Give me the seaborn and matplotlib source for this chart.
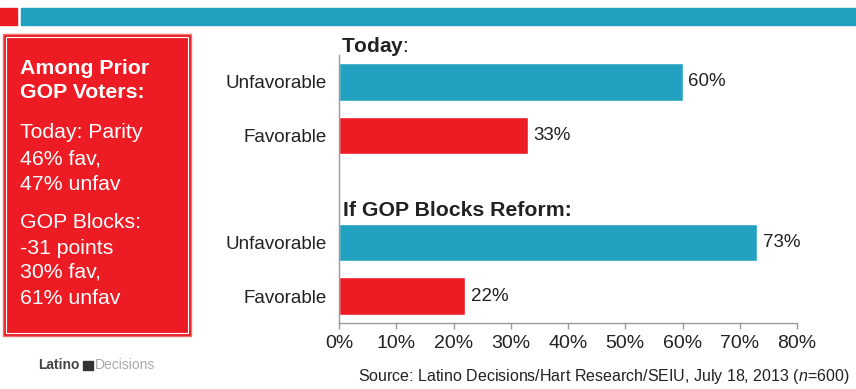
import matplotlib
matplotlib.use("Agg")
import matplotlib.pyplot as plt
import seaborn as sns
import pandas as pd
from matplotlib.patches import Rectangle

# ---- data ----
groups = ["Today", "Today", "If GOP Blocks Reform", "If GOP Blocks Reform"]
labels = ["Unfavorable", "Favorable", "Unfavorable", "Favorable"]
values = [60, 33, 73, 22]
xticks = [0, 10, 20, 30, 40, 50, 60, 70, 80]
source = "Source: Latino Decisions/Hart Research/SEIU, July 18, 2013 ("
sidebar_title = ["Among Prior", "GOP Voters:"]
sidebar_lines = ["Today: Parity", "46% fav,", "47% unfav", "GOP Blocks:", "-31 points", "30% fav,", "61% unfav"]

TEAL = "#22A2C0"
RED = "#ED1C24"
INK = "#222222"

sns.set_theme(style="white")
plt.rcParams["font.family"] = ["Liberation Sans", "DejaVu Sans"]
plt.rcParams["mathtext.fontset"] = "custom"
plt.rcParams["mathtext.it"] = "Liberation Sans:italic"
plt.rcParams["mathtext.rm"] = "Liberation Sans"
plt.rcParams["mathtext.bf"] = "Liberation Sans:bold"

slots = [f"{g}|{l}" for g, l in zip(groups, labels)]
order = [slots[0], slots[1], "gap", slots[2], slots[3]]
df = pd.DataFrame({"slot": slots, "label": labels, "value": values})

fig = plt.figure(figsize=(8.56, 3.89), dpi=100)
W, H = 856, 389
ax = fig.add_axes([339 / W, 1 - 323 / H, (797 - 339) / W, (323 - 55) / H])

sns.barplot(data=df, x="value", y="slot", hue="label", order=order,
            palette={"Unfavorable": TEAL, "Favorable": RED}, dodge=False,
            width=0.7, legend=False, ax=ax, saturation=1)

ax.set_xlim(0, 80)
ax.set_ylim(4.5, -0.5)
ax.set_xticks(xticks)
ax.set_xticklabels([f"{v}%" for v in xticks], fontsize=14, color=INK)
ax.set_yticks([0, 1, 3, 4])
ax.set_yticklabels(labels, fontsize=13.5, color=INK)
ax.set_xlabel("")
ax.set_ylabel("")
for s in ["top", "right"]:
    ax.spines[s].set_visible(False)
for s in ["left", "bottom"]:
    ax.spines[s].set_color("#999999")
    ax.spines[s].set_linewidth(1)
ax.tick_params(axis="x", length=4, width=1, color="#999999", pad=5, direction="out", bottom=True)
ax.tick_params(axis="y", length=0, pad=9)

for i, v in zip([0, 1, 3, 4], values):
    ax.text(v + 1.0, i, f"{v}%", va="center", ha="left", fontsize=13.5, color=INK)

# section headers
fig.text(341 / W, 1 - 46 / H, r"$\mathbf{" + groups[0] + r"}$:", fontsize=15, color=INK, va="center")
fig.text(343 / W, 1 - 211 / H, groups[2] + ":", fontsize=15.3, fontweight="bold", color=INK, va="center")

# top banner
fig.patches.append(Rectangle((0, 1 - 25 / H), 17 / W, 17 / H, transform=fig.transFigure, color=RED, zorder=0))
fig.patches.append(Rectangle((21 / W, 1 - 25 / H), (856 - 21) / W, 17 / H, transform=fig.transFigure, color=TEAL, zorder=0))

# sidebar box
fig.patches.append(Rectangle((3 / W, 1 - 336 / H), 188 / W, 302 / H, transform=fig.transFigure,
                             facecolor=RED, edgecolor="#F07070", linewidth=1, zorder=0))
fig.patches.append(Rectangle((6 / W, 1 - 333 / H), 182 / W, 296 / H, transform=fig.transFigure,
                             facecolor="none", edgecolor="white", linewidth=0.8, zorder=1))
for k, t in enumerate(sidebar_title):
    fig.text(20 / W, 1 - (68 + 24.5 * k) / H, t, fontsize=15.3, fontweight="bold", color="white", va="center")
ys = [133, 159, 184, 223, 248, 272, 298]
for t, y in zip(sidebar_lines, ys):
    fig.text(20 / W, 1 - y / H, t, fontsize=15.3, color="white", va="center")

# logo
fig.text(38 / W, 1 - 365 / H, "Latino", fontsize=10, fontweight="bold", color="#444444", va="center")
fig.patches.append(Rectangle((83 / W, 1 - 370 / H), 10 / W, 9 / H, transform=fig.transFigure, color="#333333"))
fig.text(95 / W, 1 - 365 / H, "Decisions", fontsize=10, color="#AAAAAA", va="center")

# source
fig.text(850 / W, 1 - 376 / H, source + r"$\mathit{n}$=600)", fontsize=11.5, color=INK,
         ha="right", va="center")

fig.savefig("out.png", dpi=100)
